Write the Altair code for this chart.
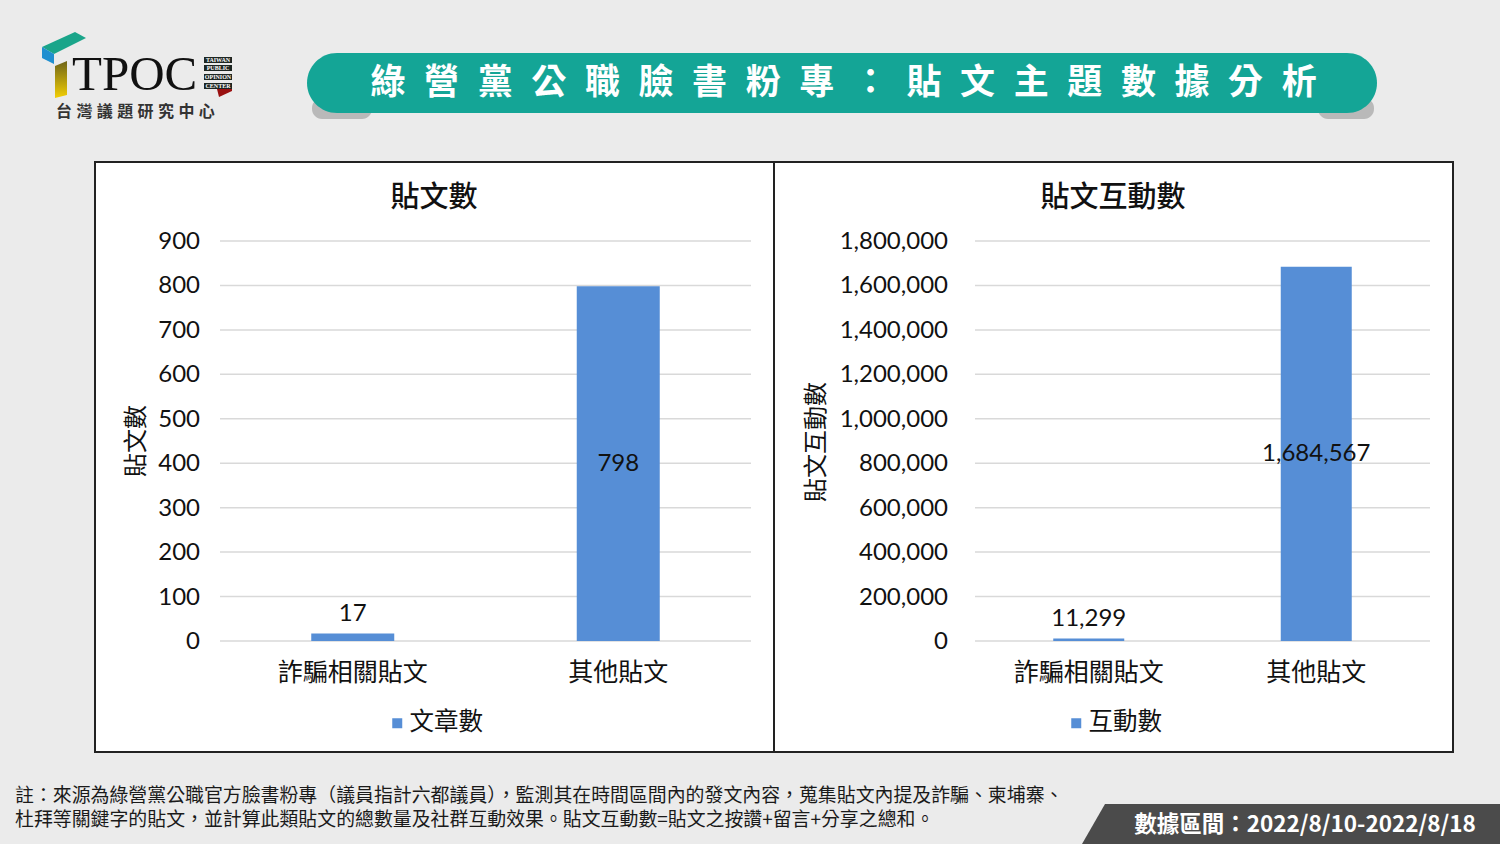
import altair as alt
import pandas as pd

# ---------------- data ----------------
categories = ["詐騙相關貼文", "其他貼文"]
post_counts = [17, 798]
interaction_counts = [11299, 1684567]
post_ticks = [0, 100, 200, 300, 400, 500, 600, 700, 800, 900]
interaction_ticks = [0, 200000, 400000, 600000, 800000, 1000000,
                     1200000, 1400000, 1600000, 1800000]
post_series = "文章數"
interaction_series = "互動數"
left_title = "貼文數"
right_title = "貼文互動數"
left_ytitle = "貼文數"
right_ytitle = "貼文互動數"
banner_title = "綠營黨公職臉書粉專：貼文主題數據分析"
logo_word = "TPOC"
logo_name = "台灣議題研究中心"
logo_tags = ["TAIWAN", "PUBLIC", "OPINION", "CENTER"]
note_lines = [
    "註：來源為綠營黨公職官方臉書粉專（議員指計六都議員），監測其在時間區間內的發文內容，蒐集貼文內提及詐騙、柬埔寨、",
    "杜拜等關鍵字的貼文，並計算此類貼文的總數量及社群互動效果。貼文互動數=貼文之按讚+留言+分享之總和。",
]
date_range = "數據區間：2022/8/10-2022/8/18"

# ---------------- style ----------------
BLUE = "#568ed6"
TEAL = "#14a596"
GRID = "#d9d9d9"
INK = "#111111"
CJK = "Noto Sans CJK TC"
NUM = "Lato"
W, H = 1500, 844
BASE_Y, TOP_Y = 641, 241

one = pd.DataFrame({"k": [0]})


def rect(x, x2, y, y2, **kw):
    return alt.Chart(one).mark_rect(**kw).encode(
        x=alt.value(x), x2=alt.value(x2), y=alt.value(y), y2=alt.value(y2))


def text(t, x, y, **kw):
    return alt.Chart(one).mark_text(text=t, **kw).encode(x=alt.value(x), y=alt.value(y))


def shape(path, **kw):
    kw.setdefault("strokeWidth", 0)
    return alt.Chart(one).mark_point(shape=path, size=4, filled=True, opacity=1, **kw).encode(
        x=alt.value(0), y=alt.value(0))


def spaced(chars, x0, step, y, **kw):
    df = pd.DataFrame({"ch": list(chars), "i": list(range(len(chars)))})
    return alt.Chart(df).transform_calculate(px=f"{x0} + datum.i * {step}").mark_text(**kw).encode(
        x=alt.X("px:Q", scale=None), y=alt.value(y), text="ch:N")


def panel(values, ticks, series, x0, x1, bar_w, label_right, legend_x):
    df = pd.DataFrame({"cat": categories, "v": values, "series": [series] * len(values)})
    tick_df = pd.DataFrame({"t": ticks})
    xs = alt.Scale(domain=categories, range=[x0, x1], paddingInner=0, paddingOuter=0)
    ys = alt.Scale(domain=[ticks[0], ticks[-1]], range=[BASE_Y, TOP_Y], nice=False, zero=True)
    xenc = alt.X("cat:N", sort=categories, scale=xs, axis=None)
    grid = alt.Chart(tick_df).mark_rule(color=GRID, strokeWidth=1.5).encode(
        y=alt.Y("t:Q", scale=ys, axis=None), x=alt.value(x0), x2=alt.value(x1))
    tick_labels = alt.Chart(tick_df).mark_text(
        font=NUM, fontSize=24, color=INK, align="right", baseline="middle", dy=1).encode(
        y=alt.Y("t:Q", scale=ys, axis=None), x=alt.value(label_right),
        text=alt.Text("t:Q", format=",d"))
    cat_labels = alt.Chart(df).mark_text(
        font=CJK, fontSize=25, color=INK, baseline="middle").encode(
        x=xenc, y=alt.value(673), text="cat:N")
    bars = alt.Chart(df).mark_bar(size=bar_w).encode(
        x=xenc,
        y=alt.Y("v:Q", scale=ys, axis=None),
        color=alt.Color("series:N", scale=alt.Scale(range=[BLUE]),
                        legend=alt.Legend(orient="none", legendX=legend_x, legendY=711,
                                          title=None, symbolType="square", symbolSize=100,
                                          symbolStrokeWidth=0, labelFont=CJK, labelFontSize=24.5,
                                          labelColor=INK, padding=0, labelOffset=0,
                                          direction="horizontal", zindex=2)))
    limit = ticks[-1] * 0.1
    small = alt.Chart(df).transform_filter(alt.datum.v < limit).mark_text(
        font=NUM, fontSize=24, baseline="alphabetic", dy=-12, color=INK).encode(
        x=xenc, y=alt.Y("v:Q", scale=ys, axis=None), text=alt.Text("v:Q", format=","))
    big = alt.Chart(df).transform_filter(alt.datum.v >= limit).transform_calculate(
        mid="datum.v / 2").mark_text(font=NUM, fontSize=24, baseline="middle", color=INK).encode(
        x=xenc, y=alt.Y("mid:Q", scale=ys, axis=None), text=alt.Text("v:Q", format=","))
    return alt.layer(grid, bars, small, big, tick_labels, cat_labels)


left = panel(post_counts, post_ticks, post_series, 220, 751, 83, 200, 385)
right = panel(interaction_counts, interaction_ticks, interaction_series, 975, 1430, 71, 948, 1064)

# ---------------- decorations ----------------
boxes = [
    rect(95, 774, 162, 752, fill="white", stroke="#222222", strokeWidth=2),
    rect(774, 1453, 162, 752, fill="white", stroke="#222222", strokeWidth=2),
]
titles = [
    text(left_title, 434, 198, font=CJK, fontSize=29, fontWeight=500, color=INK, baseline="middle"),
    text(right_title, 1113, 198, font=CJK, fontSize=29, fontWeight=500, color=INK, baseline="middle"),
    text(left_ytitle, 137, 441, font=CJK, fontSize=24, color=INK, baseline="middle", angle=270),
    text(right_ytitle, 817, 442, font=CJK, fontSize=24, color=INK, baseline="middle", angle=270),
]
banner = [
    rect(312, 372, 98, 119, fill="#8f8f8f", opacity=0.55, cornerRadius=10),
    rect(1318, 1374, 98, 119, fill="#8f8f8f", opacity=0.55, cornerRadius=10),
    rect(307, 1377, 53, 113, fill=TEAL, cornerRadius=30),
    spaced(banner_title, 388, 53.6, 83, font=CJK, fontSize=35, fontWeight="bold",
           color="white", baseline="middle"),
]
logo = [
    shape("M42,47L75,32L86,38L54,54Z", fill="#1aa58a"),
    shape("M42,47L54,54L54,64L42,58Z", fill="#1f8fd0"),
    shape("M55,66L67,61L67,95L55,98Z",
          fill=alt.LinearGradient(gradient="linear", x1=0, y1=0, x2=0, y2=1,
                                  stops=[alt.GradientStop(color="#6e6418", offset=0),
                                         alt.GradientStop(color="#f3cf05", offset=1)])),
    text(logo_word, 72, 90, font="Liberation Serif", fontSize=49, color="#111111",
         align="left", baseline="alphabetic"),
    rect(204, 232, 57, 63, fill="#1d2622"),
    rect(204, 232, 65, 71, fill="#1d2622"),
    rect(204, 232, 74, 80, fill="#1d2622"),
    rect(204, 232, 83, 89, fill="#1d2622"),
    shape("M217,89L232,89L232,91L219,97Z", fill="#9a1010"),
    text(logo_tags[0], 218, 60, font="Liberation Serif", fontSize=6, fontWeight="bold",
         color="white", baseline="middle"),
    text(logo_tags[1], 218, 68, font="Liberation Serif", fontSize=6, fontWeight="bold",
         color="white", baseline="middle"),
    text(logo_tags[2], 218, 77, font="Liberation Serif", fontSize=6, fontWeight="bold",
         color="white", baseline="middle"),
    text(logo_tags[3], 218, 86, font="Liberation Serif", fontSize=6, fontWeight="bold",
         color="white", baseline="middle"),
    spaced(logo_name, 64, 20.4, 112, font=CJK, fontSize=16, fontWeight="bold",
           color="#333333", baseline="middle"),
]
footer = [
    shape("M1105,804L1500,804L1500,844L1082,844Z", fill="#4b4b4b"),
    text(date_range, 1305, 825, font=CJK, fontSize=22.5, fontWeight="bold", color="white",
         baseline="middle"),
    text(note_lines[0], 15, 796, font=CJK, fontSize=18.9, color="#1a1a1a", align="left",
         baseline="middle"),
    text(note_lines[1], 15, 820, font=CJK, fontSize=18.9, color="#1a1a1a", align="left",
         baseline="middle"),
]

chart = alt.layer(
    *banner, *logo, *boxes, left, right, *titles, *footer
).resolve_scale(
    x="independent", y="independent", color="independent"
).properties(
    width=W, height=H, padding=0, background="#ebebeb",
    autosize=alt.AutoSizeParams(type="none"),
).configure_view(strokeWidth=0)

chart.save("out.html", embed_options={"renderer": "svg", "actions": False})
